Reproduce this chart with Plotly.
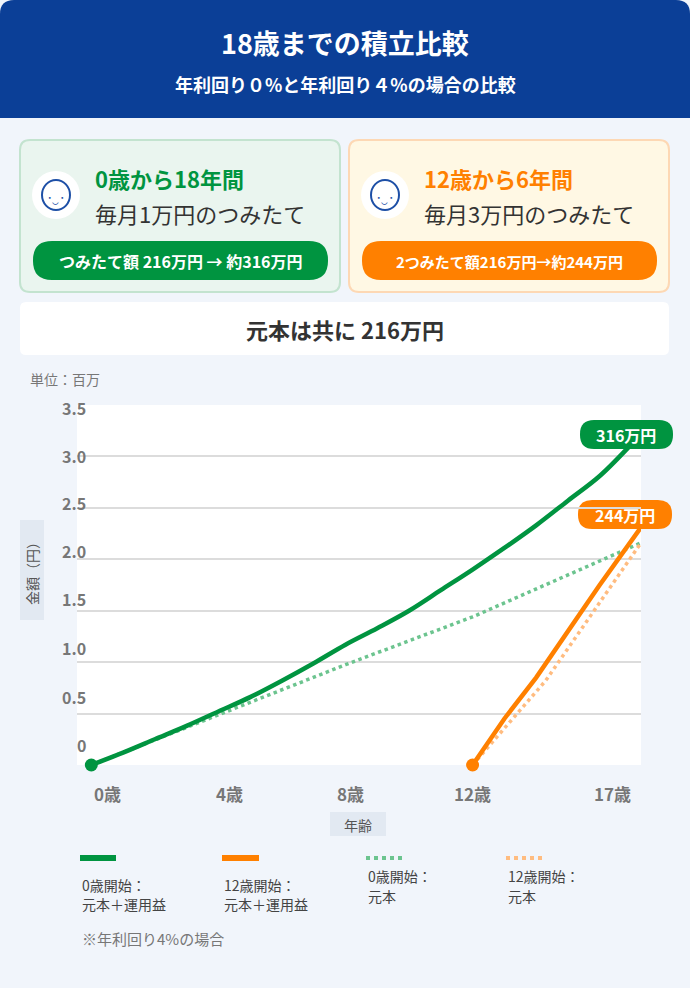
import plotly.graph_objects as go

W, H = 690, 988
FONT = "Noto Sans CJK JP"
GREEN = "#009440"
ORANGE = "#ff8000"
GREEN_L = "#6cc48f"
ORANGE_L = "#ffbc80"

# data (millions of yen)
green_age = [0, 1, 2, 3, 4, 5, 6, 7, 8, 9, 10, 11, 12, 13, 14, 15, 16, 17]
green_total = [0, 0.12, 0.25, 0.38, 0.52, 0.66, 0.82, 0.99, 1.17, 1.33, 1.50, 1.70, 1.90, 2.11, 2.33, 2.57, 2.81, 3.12]
green_principal_age = [0, 4, 8, 12, 17.3]
green_principal = [0, 0.49, 0.975, 1.44, 2.16]
orange_age = [12, 13, 14, 15, 16, 17.3]
orange_total = [0, 0.45, 0.85, 1.3, 1.75, 2.31]
orange_principal_age = [12, 14.3, 17.3]
orange_principal = [0, 0.82, 2.16]

ytick_vals = ["3.5", "3.0", "2.5", "2.0", "1.5", "1.0", "0.5", "0"]
ytick_px = [408, 456, 503, 551, 599, 648, 697, 745]
xtick_text = ["0歳", "4歳", "8歳", "12歳", "17歳"]
xtick_px = [107, 229, 351, 472, 612]


def px(x):
    return x / W


def py(y):
    return 1 - y / H


def rrect(x0, y0, x1, y1, r, fill, line=None, lw=0):
    # rounded rectangle in pixel coords (top-left origin)
    X0, X1 = px(x0), px(x1)
    Y0, Y1 = py(y0), py(y1)
    rx, ry = r / W, r / H
    path = (f"M{X0+rx},{Y0} L{X1-rx},{Y0} Q{X1},{Y0} {X1},{Y0-ry} "
            f"L{X1},{Y1+ry} Q{X1},{Y1} {X1-rx},{Y1} L{X0+rx},{Y1} "
            f"Q{X0},{Y1} {X0},{Y1+ry} L{X0},{Y0-ry} Q{X0},{Y0} {X0+rx},{Y0} Z")
    return dict(type="path", xref="paper", yref="paper", path=path, fillcolor=fill,
                line=dict(color=line or fill, width=lw), layer="below")


def txt(x, y, s, size, color, bold=False, xanchor="center", **kw):
    if bold:
        s = f"<b>{s}</b>"
    return dict(x=px(x), y=py(y), xref="paper", yref="paper", text=s, showarrow=False,
                xanchor=xanchor, yanchor="middle", font=dict(family=FONT, size=size, color=color), **kw)


fig = go.Figure()
fig.add_trace(go.Scatter(x=green_principal_age, y=green_principal, mode="lines",
                         line=dict(color=GREEN_L, width=3.5, dash="dot")))
fig.add_trace(go.Scatter(x=orange_principal_age, y=orange_principal, mode="lines",
                         line=dict(color=ORANGE_L, width=3.5, dash="dot")))
fig.add_trace(go.Scatter(x=green_age, y=green_total, mode="lines", line=dict(color=GREEN, width=4.5, shape="spline")))
fig.add_trace(go.Scatter(x=orange_age, y=orange_total, mode="lines", line=dict(color=ORANGE, width=4.5)))
fig.add_trace(go.Scatter(x=[0], y=[0], mode="markers", marker=dict(color=GREEN, size=13), cliponaxis=False))
fig.add_trace(go.Scatter(x=[12], y=[0], mode="markers", marker=dict(color=ORANGE, size=13), cliponaxis=False))

shapes = [
    # background + header
    dict(type="rect", xref="paper", yref="paper", x0=0, x1=1, y0=0, y1=1, fillcolor="#f1f5fb", line_width=0, layer="below"),
    rrect(0, 0, 690, 118, 14, "#0b3f97"),
    dict(type="rect", xref="paper", yref="paper", x0=0, x1=1, y0=py(118), y1=py(100), fillcolor="#0b3f97", line_width=0, layer="below"),
    # cards
    rrect(20, 140, 340, 292, 10, "#eaf5ef", "#c3e3cf", 2),
    rrect(349, 140, 669, 292, 10, "#fff8e4", "#fdd8b4", 2),
    rrect(33, 241, 328, 280, 19, GREEN),
    rrect(362, 241, 657, 280, 19, ORANGE),
    # icons
    dict(type="circle", xref="paper", yref="paper", x0=px(32), x1=px(80), y0=py(219), y1=py(171), fillcolor="white", line_width=0),
    dict(type="circle", xref="paper", yref="paper", x0=px(42), x1=px(70), y0=py(210), y1=py(180), fillcolor="white", line=dict(color="#1d4fa6", width=2)),
    dict(type="circle", xref="paper", yref="paper", x0=px(361), x1=px(409), y0=py(219), y1=py(171), fillcolor="white", line_width=0),
    dict(type="circle", xref="paper", yref="paper", x0=px(371), x1=px(399), y0=py(210), y1=py(180), fillcolor="white", line=dict(color="#1d4fa6", width=2)),
    # subtitle box
    rrect(20, 302, 669, 355, 6, "white"),
    # plot area bg
    dict(type="rect", xref="paper", yref="paper", x0=px(77), x1=px(641), y0=py(765), y1=py(405), fillcolor="white", line_width=0, layer="below"),
    # axis title boxes
    dict(type="rect", xref="paper", yref="paper", x0=px(20), x1=px(44), y0=py(620), y1=py(520), fillcolor="#e2e9f2", line_width=0, layer="below"),
    dict(type="rect", xref="paper", yref="paper", x0=px(330), x1=px(386), y0=py(836), y1=py(812), fillcolor="#e2e9f2", line_width=0, layer="below"),
    # value pills
    rrect(580, 420, 673, 449, 14, GREEN),
    rrect(578, 500, 672, 529, 14, ORANGE),
]
# legend samples
legend_items = [(80, 116, GREEN, "solid", 6), (222, 259, ORANGE, "solid", 6), (366, 402, GREEN_L, "dot", 4), (506, 542, ORANGE_L, "dot", 4)]
for x0, x1, c, d, w in legend_items:
    shapes.append(dict(type="line", xref="paper", yref="paper", x0=px(x0), x1=px(x1), y0=py(858), y1=py(858),
                       line=dict(color=c, width=w, dash=d)))

ann = [
    txt(345, 42, "18歳までの積立比較", 27, "white", True),
    txt(345, 84, "年利回り０%と年利回り４%の場合の比較", 18, "white", True),
    txt(93, 178, "0歳から18年間", 22, GREEN, True, "left"),
    txt(93, 213, "毎月1万円のつみたて", 22, "#333333", False, "left"),
    txt(181, 261, "つみたて額 216万円 → 約316万円", 16, "white", True),
    txt(422, 178, "12歳から6年間", 22, ORANGE, True, "left"),
    txt(422, 213, "毎月3万円のつみたて", 22, "#333333", False, "left"),
    txt(510, 261, "2つみたて額216万円→約244万円", 15, "white", True),
    txt(345, 329, "元本は共に 216万円", 22, "#333333", True),
    txt(28, 379, "単位：百万", 14, "#777777", False, "left"),
    txt(32, 570, "金額（円）", 14, "#555555", False, textangle=-90),
    txt(358, 825, "年齢", 14, "#555555"),
    txt(626, 435, "316万円", 16, "white", True),
    txt(625, 515, "244万円", 16, "white", True),
    txt(80, 885, "0歳開始：", 14, "#444444", False, "left"),
    txt(80, 904, "元本＋運用益", 14, "#444444", False, "left"),
    txt(222, 885, "12歳開始：", 14, "#444444", False, "left"),
    txt(222, 904, "元本＋運用益", 14, "#444444", False, "left"),
    txt(366, 876, "0歳開始：", 14, "#444444", False, "left"),
    txt(366, 896, "元本", 14, "#444444", False, "left"),
    txt(506, 876, "12歳開始：", 14, "#444444", False, "left"),
    txt(506, 896, "元本", 14, "#444444", False, "left"),
    txt(80, 938, "※年利回り4%の場合", 15, "#777777", False, "left"),
    # icon faces
    txt(56, 197, "･‿･", 11, "#1d4fa6"),
    txt(385, 197, "･‿･", 11, "#1d4fa6"),
]
for s, y in zip(ytick_vals, ytick_px):
    ann.append(txt(88, y, s, 16, "#777777", True, "right"))
for s, x in zip(xtick_text, xtick_px):
    ann.append(txt(x, 793, s, 17, "#777777", True))

fig.update_layout(
    width=W, height=H, margin=dict(l=0, r=0, t=0, b=0),
    paper_bgcolor="#f1f5fb", plot_bgcolor="rgba(0,0,0,0)",
    showlegend=False, shapes=shapes, annotations=ann,
    xaxis=dict(domain=[px(77), px(641)], range=[-0.45, 17.3], showgrid=False, zeroline=False,
               showticklabels=False, fixedrange=True),
    yaxis=dict(domain=[py(765), py(405)], range=[0, 3.5], dtick=0.5, showgrid=True,
               gridcolor="#dcdcdc", gridwidth=2, zeroline=False, showticklabels=False, fixedrange=True),
)
fig.write_html("out.html", config={"displayModeBar": False},
               post_script="document.body.style.margin='0';")
